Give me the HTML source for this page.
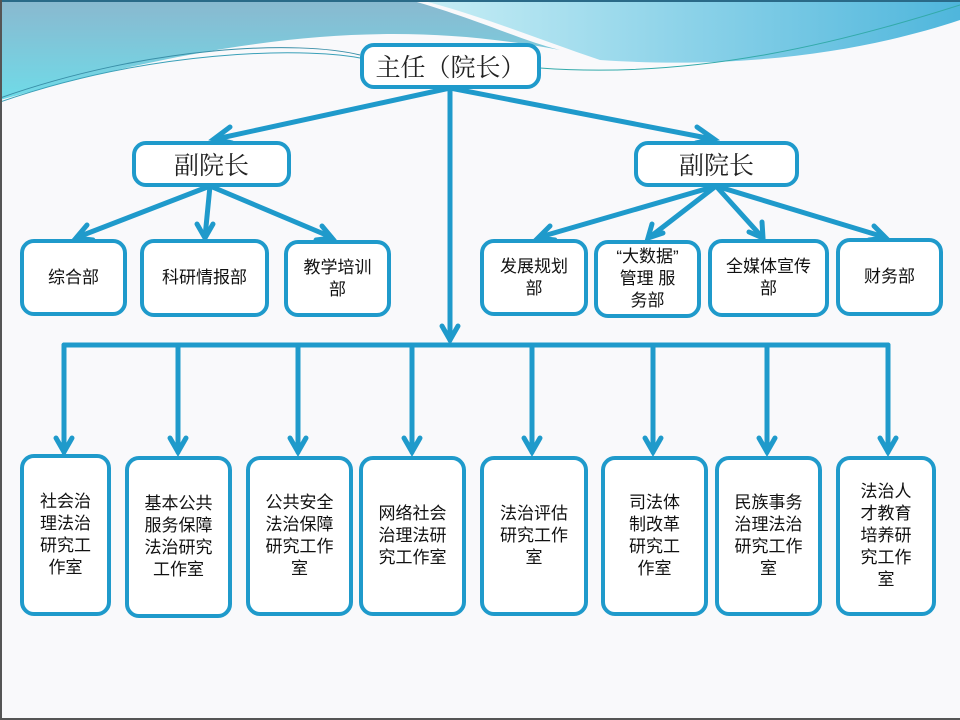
<!DOCTYPE html>
<html><head><meta charset="utf-8"><style>
body{margin:0;width:960px;height:720px;overflow:hidden;background:#f9f9fb;position:relative;font-family:"Liberation Sans","Noto Sans CJK SC",sans-serif;}
.b{position:absolute;box-sizing:border-box;border:4px solid #1f9acb;border-radius:14px;background:#fff;display:flex;align-items:center;justify-content:center;text-align:center;color:#111;font-size:17px;line-height:22px;}
.t{font-family:"Noto Serif CJK SC",serif;font-size:25px;color:#222;}
svg{position:absolute;left:0;top:0}
</style></head><body>
<svg width="960" height="720">
<defs>
<linearGradient id="g1" x1="0" y1="0" x2="0" y2="1"><stop offset="0" stop-color="#8ab8cf"/><stop offset="1" stop-color="#6fdbe8"/></linearGradient>
<linearGradient id="g2" x1="0" y1="0" x2="1" y2="0"><stop offset="0" stop-color="#c8eef5"/><stop offset="1" stop-color="#4fb6dc"/></linearGradient>
</defs>
<path d="M0,0 H410 C480,20 520,40 560,50 C400,20 250,30 0,100 Z" fill="url(#g1)"/>
<path d="M420,0 H960 V20 C870,50 750,70 600,60 C540,40 480,15 420,0 Z" fill="url(#g2)"/>
<path d="M0,98 C150,45 300,40 360,55" stroke="#3a8fa8" stroke-width="1" fill="none"/>
<path d="M0,102 C150,50 300,47 360,58" stroke="#3aa0b8" stroke-width="1" fill="none"/>
<path d="M540,68 C700,80 850,40 960,5" stroke="#3aa" stroke-width="1" fill="none"/>
<rect x="0" y="0" width="960" height="2" fill="#2a6a88"/>
<rect x="0" y="0" width="2" height="720" fill="#555"/>
<rect x="0" y="718" width="960" height="2" fill="#555"/>
<g stroke="#1f9acb" stroke-width="5" fill="none" stroke-linecap="round">
<line x1="450" y1="88" x2="450" y2="340"/><polyline points="442,326 450,340 458,326"/>
<line x1="450" y1="88" x2="216" y2="139"/><polyline points="230,127 214,139 232,143"/>
<line x1="450" y1="88" x2="712" y2="139"/><polyline points="697,127 714,139 696,143"/>
<line x1="210" y1="186" x2="78" y2="237"/><polyline points="87,225 76,238 93,240"/>
<line x1="210" y1="186" x2="205" y2="237"/><polyline points="197,224 205,238 213,224"/>
<line x1="210" y1="186" x2="331" y2="237"/><polyline points="322,226 332,238 316,240"/>
<line x1="716" y1="186" x2="540" y2="237"/><polyline points="550,226 538,238 555,240"/>
<line x1="716" y1="186" x2="650" y2="237"/><polyline points="652,224 648,238 663,233"/>
<line x1="716" y1="186" x2="762" y2="237"/><polyline points="762,222 763,238 749,232"/>
<line x1="716" y1="186" x2="884" y2="237"/><polyline points="874,226 886,238 869,240"/>
<line x1="64" y1="345" x2="888" y2="345"/>
<g>
<line x1="64" y1="345" x2="64" y2="452"/><polyline points="56,438 64,452 72,438"/>
<line x1="178" y1="345" x2="178" y2="452"/><polyline points="170,438 178,452 186,438"/>
<line x1="298" y1="345" x2="298" y2="452"/><polyline points="290,438 298,452 306,438"/>
<line x1="412" y1="345" x2="412" y2="452"/><polyline points="404,438 412,452 420,438"/>
<line x1="532" y1="345" x2="532" y2="452"/><polyline points="524,438 532,452 540,438"/>
<line x1="653" y1="345" x2="653" y2="452"/><polyline points="645,438 653,452 661,438"/>
<line x1="767" y1="345" x2="767" y2="452"/><polyline points="759,438 767,452 775,438"/>
<line x1="888" y1="345" x2="888" y2="452"/><polyline points="880,438 888,452 896,438"/>
</g></g>
</svg>
<div class="b t" style="left:360px;top:43px;width:181px;height:46px;">主任（院长）</div>
<div class="b t" style="left:132px;top:141px;width:159px;height:46px;">副院长</div>
<div class="b t" style="left:634px;top:141px;width:165px;height:46px;">副院长</div>
<div class="b" style="left:20px;top:239px;width:107px;height:77px;">综合部</div>
<div class="b" style="left:140px;top:239px;width:129px;height:78px;">科研情报部</div>
<div class="b" style="left:284px;top:240px;width:107px;height:77px;">教学培训<br>部</div>
<div class="b" style="left:480px;top:239px;width:108px;height:77px;">发展规划<br>部</div>
<div class="b" style="left:594px;top:240px;width:107px;height:78px;">“大数据”<br>管理 服<br>务部</div>
<div class="b" style="left:708px;top:239px;width:121px;height:78px;">全媒体宣传<br>部</div>
<div class="b" style="left:836px;top:238px;width:107px;height:78px;">财务部</div>
<div class="b" style="left:20px;top:454px;width:91px;height:162px;">社会治<br>理法治<br>研究工<br>作室</div>
<div class="b" style="left:125px;top:456px;width:107px;height:162px;">基本公共<br>服务保障<br>法治研究<br>工作室</div>
<div class="b" style="left:246px;top:456px;width:107px;height:160px;">公共安全<br>法治保障<br>研究工作<br>室</div>
<div class="b" style="left:359px;top:456px;width:107px;height:160px;">网络社会<br>治理法研<br>究工作室</div>
<div class="b" style="left:480px;top:456px;width:108px;height:160px;">法治评估<br>研究工作<br>室</div>
<div class="b" style="left:601px;top:456px;width:107px;height:160px;">司法体<br>制改革<br>研究工<br>作室</div>
<div class="b" style="left:715px;top:456px;width:107px;height:160px;">民族事务<br>治理法治<br>研究工作<br>室</div>
<div class="b" style="left:836px;top:456px;width:100px;height:160px;">法治人<br>才教育<br>培养研<br>究工作<br>室</div>
</body></html>
